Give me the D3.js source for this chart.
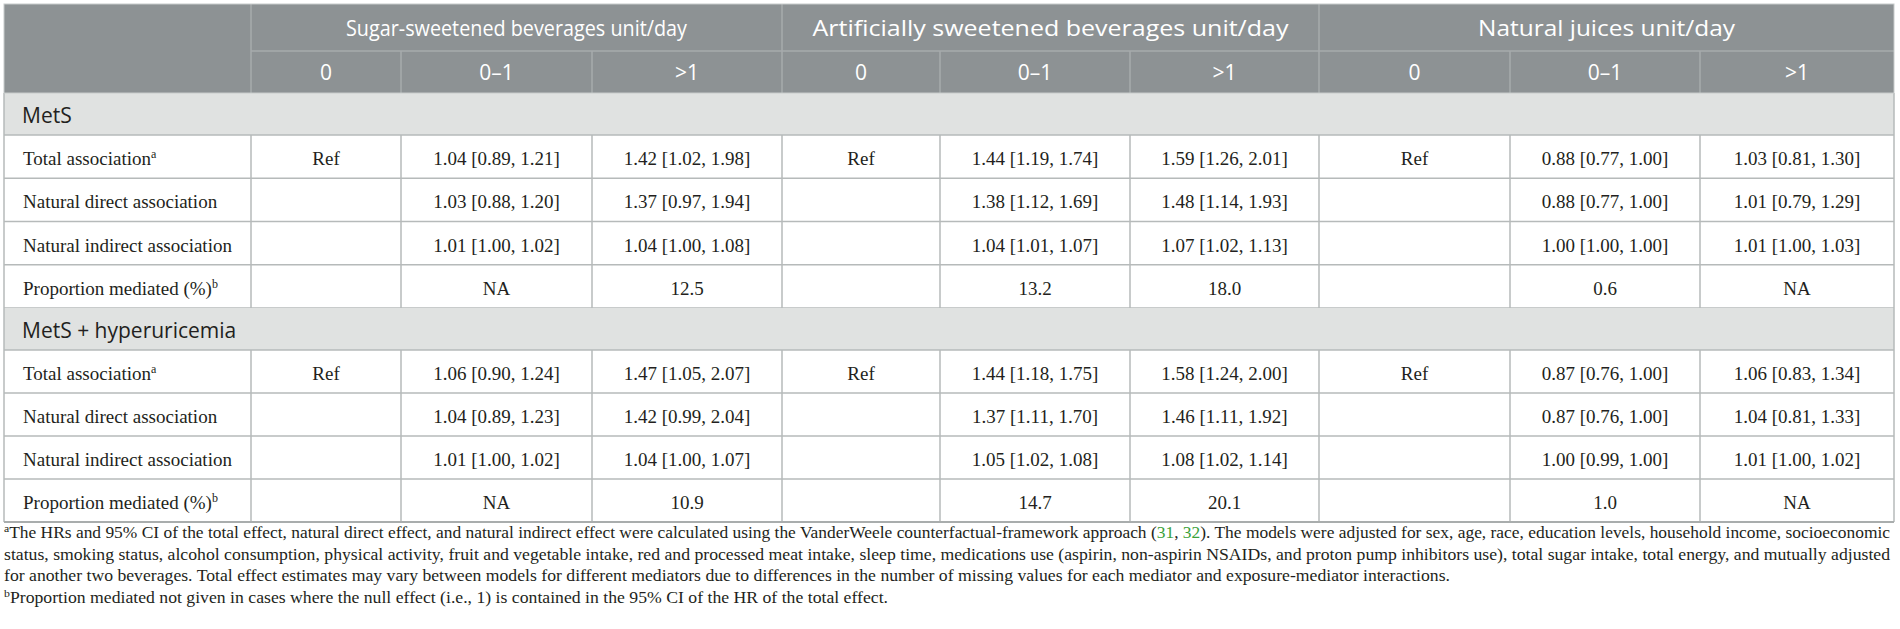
<!DOCTYPE html>
<html>
<head>
<meta charset="utf-8">
<script src="https://cdn.jsdelivr.net/npm/d3@7/dist/d3.min.js"></script>
<style>
  html, body { margin: 0; padding: 0; background: #ffffff; }
  svg { display: block; }
</style>
</head>
<body>
<svg id="chart" width="1900" height="629"></svg>
<script>
// ---------------- DATA ----------------
const groups = ["Sugar-sweetened beverages unit/day", "Artificially sweetened beverages unit/day", "Natural juices unit/day"];
const levels = ["0", "0\u20131", ">1"];
const sections = ["MetS", "MetS + hyperuricemia"];
const rowLabels = ["Total association", "Natural direct association", "Natural indirect association", "Proportion mediated (%)"];
const rowSup = ["a", "", "", "b"];

const metsTotal    = ["Ref", "1.04 [0.89, 1.21]", "1.42 [1.02, 1.98]", "Ref", "1.44 [1.19, 1.74]", "1.59 [1.26, 2.01]", "Ref", "0.88 [0.77, 1.00]", "1.03 [0.81, 1.30]"];
const metsDirect   = ["", "1.03 [0.88, 1.20]", "1.37 [0.97, 1.94]", "", "1.38 [1.12, 1.69]", "1.48 [1.14, 1.93]", "", "0.88 [0.77, 1.00]", "1.01 [0.79, 1.29]"];
const metsIndirect = ["", "1.01 [1.00, 1.02]", "1.04 [1.00, 1.08]", "", "1.04 [1.01, 1.07]", "1.07 [1.02, 1.13]", "", "1.00 [1.00, 1.00]", "1.01 [1.00, 1.03]"];
const metsProp     = ["", "NA", "12.5", "", "13.2", "18.0", "", "0.6", "NA"];

const hyperTotal    = ["Ref", "1.06 [0.90, 1.24]", "1.47 [1.05, 2.07]", "Ref", "1.44 [1.18, 1.75]", "1.58 [1.24, 2.00]", "Ref", "0.87 [0.76, 1.00]", "1.06 [0.83, 1.34]"];
const hyperDirect   = ["", "1.04 [0.89, 1.23]", "1.42 [0.99, 2.04]", "", "1.37 [1.11, 1.70]", "1.46 [1.11, 1.92]", "", "0.87 [0.76, 1.00]", "1.04 [0.81, 1.33]"];
const hyperIndirect = ["", "1.01 [1.00, 1.02]", "1.04 [1.00, 1.07]", "", "1.05 [1.02, 1.08]", "1.08 [1.02, 1.14]", "", "1.00 [0.99, 1.00]", "1.01 [1.00, 1.02]"];
const hyperProp     = ["", "NA", "10.9", "", "14.7", "20.1", "", "1.0", "NA"];

const footnotes = [
  [{sup: "a"}, {t: "The HRs and 95% CI of the total effect, natural direct effect, and natural indirect effect were calculated using the VanderWeele counterfactual-framework approach ("}, {link: "31"}, {t: ", "}, {link: "32"}, {t: "). The models were adjusted for sex, age, race, education levels, household income, socioeconomic"}],
  [{t: "status, smoking status, alcohol consumption, physical activity, fruit and vegetable intake, red and processed meat intake, sleep time, medications use (aspirin, non-aspirin NSAIDs, and proton pump inhibitors use), total sugar intake, total energy, and mutually adjusted"}],
  [{t: "for another two beverages. Total effect estimates may vary between models for different mediators due to differences in the number of missing values for each mediator and exposure-mediator interactions."}],
  [{sup: "b"}, {t: "Proportion mediated not given in cases where the null effect (i.e., 1) is contained in the 95% CI of the HR of the total effect."}]
];

const sectionData = [
  [metsTotal, metsDirect, metsIndirect, metsProp],
  [hyperTotal, hyperDirect, hyperIndirect, hyperProp]
];

// ---------------- LAYOUT ----------------
const colEdges = [4, 251, 401, 592, 782, 940, 1130, 1319, 1510, 1700, 1894];
const xEdge = d3.scaleOrdinal().domain(d3.range(colEdges.length)).range(colEdges);
const xMid = i => (xEdge(i) + xEdge(i + 1)) / 2;

const yTop = 4, yHead1 = 51, yHead2 = 93;
const bandRanges = [[93, 135], [308, 350]];
const rowRanges = [[135, 308], [350, 522]];

const C = {
  headBg: "#8d9294", headLine: "#a7abad", headText: "#ffffff",
  bandBg: "#e0e2e1", grid: "#b6baba", text: "#231f20", link: "#3aa13a"
};
const SANS = "'Open Sans', 'Noto Sans', sans-serif";
const SERIF = "'Liberation Serif', 'DejaVu Serif', serif";

const svg = d3.select("#chart");

// Header background
svg.append("rect").attr("x", xEdge(0)).attr("y", yTop)
  .attr("width", xEdge(10) - xEdge(0)).attr("height", yHead2 - yTop).attr("fill", C.headBg);

// Header lines
const hl = svg.append("g").attr("stroke", C.headLine).attr("stroke-width", 1.5);
hl.append("line").attr("x1", xEdge(1)).attr("x2", xEdge(10)).attr("y1", yHead1).attr("y2", yHead1);
[1, 4, 7].forEach(i => hl.append("line").attr("x1", xEdge(i)).attr("x2", xEdge(i)).attr("y1", yTop).attr("y2", yHead2));
d3.range(1, 10).filter(i => ![1, 4, 7].includes(i)).forEach(i =>
  hl.append("line").attr("x1", xEdge(i)).attr("x2", xEdge(i)).attr("y1", yHead1).attr("y2", yHead2));

// Header texts
const targetW = [341, 476, 257];
groups.forEach((g, gi) => {
  const t = svg.append("text")
    .attr("x", (xEdge(1 + gi * 3) + xEdge(4 + gi * 3)) / 2).attr("y", 36)
    .attr("text-anchor", "middle").attr("font-family", SANS).attr("font-size", 21)
    .attr("fill", C.headText).text(g);
  const w = t.node().getComputedTextLength();
  if (Math.abs(w - targetW[gi]) > 3) t.attr("textLength", targetW[gi]).attr("lengthAdjust", "spacingAndGlyphs");
  levels.forEach((l, li) => {
    svg.append("text").attr("x", xMid(1 + gi * 3 + li)).attr("y", 80)
      .attr("text-anchor", "middle").attr("font-family", SANS).attr("font-size", 21)
      .attr("fill", C.headText).text(l);
  });
});

// Sections
sections.forEach((s, si) => {
  const [b0, b1] = bandRanges[si];
  svg.append("rect").attr("x", xEdge(0)).attr("y", b0).attr("width", xEdge(10) - xEdge(0))
    .attr("height", b1 - b0).attr("fill", C.bandBg);
  svg.append("text").attr("x", 22).attr("y", (b0 + b1) / 2 + 9)
    .attr("font-family", SANS).attr("font-size", 21).attr("fill", C.text).text(s);

  const y = d3.scaleBand().domain(rowLabels).range(rowRanges[si]);
  const g = svg.append("g");
  rowLabels.forEach((lab, ri) => {
    const yc = y(lab) + y.bandwidth() / 2;
    const t = g.append("text").attr("x", 23).attr("y", yc + 8.5)
      .attr("font-family", SERIF).attr("font-size", 19).attr("fill", C.text).text(lab);
    if (rowSup[ri]) t.append("tspan").attr("dy", -7).attr("font-size", 12).text(rowSup[ri]);
    sectionData[si][ri].forEach((v, ci) => {
      if (!v) return;
      g.append("text").attr("x", xMid(ci + 1)).attr("y", yc + 8.5)
        .attr("text-anchor", "middle").attr("font-family", SERIF).attr("font-size", 19)
        .attr("fill", C.text).text(v);
    });
  });

  // grid
  const grid = svg.append("g").attr("stroke", C.grid).attr("stroke-width", 1.5).attr("fill", "none");
  const [r0, r1] = rowRanges[si];
  rowLabels.forEach(lab => {
    grid.append("line").attr("x1", xEdge(0)).attr("x2", xEdge(10)).attr("y1", y(lab)).attr("y2", y(lab));
  });
  d3.range(1, 10).forEach(i =>
    grid.append("line").attr("x1", xEdge(i)).attr("x2", xEdge(i)).attr("y1", r0).attr("y2", r1));
  grid.append("line").attr("x1", xEdge(0)).attr("x2", xEdge(0)).attr("y1", b0).attr("y2", r1);
  grid.append("line").attr("x1", xEdge(10)).attr("x2", xEdge(10)).attr("y1", b0).attr("y2", r1);
  grid.append("line").attr("x1", xEdge(0)).attr("x2", xEdge(10)).attr("y1", r1).attr("y2", r1);
});

// outer frame of header area
svg.append("rect").attr("x", xEdge(0)).attr("y", yTop).attr("width", xEdge(10) - xEdge(0))
  .attr("height", yHead2 - yTop).attr("fill", "none").attr("stroke", "#c7cbcb").attr("stroke-width", 1);
svg.append("line").attr("x1", xEdge(0)).attr("x2", xEdge(10)).attr("y1", 522).attr("y2", 522)
  .attr("stroke", "#a9adad").attr("stroke-width", 2);

// Footnotes
const fnY = [538, 559.5, 581, 602.5];
const fnW = [1886, 1886, 1446, 884];
footnotes.forEach((parts, i) => {
  const t = svg.append("text").attr("x", 4).attr("y", fnY[i])
    .attr("font-family", SERIF).attr("font-size", 16.5).attr("fill", C.text);
  parts.forEach(p => {
    if (p.sup) t.append("tspan").attr("font-size", 11).attr("dy", -6).text(p.sup);
    else if (p.link) t.append("tspan").attr("fill", C.link).text(p.link);
    else {
      const sp = t.append("tspan").text(p.t);
      if (parts[0].sup && p === parts[1]) sp.attr("dy", 6);
    }
  });
  t.attr("textLength", fnW[i]).attr("lengthAdjust", "spacingAndGlyphs");
});
</script>
</body>
</html>
